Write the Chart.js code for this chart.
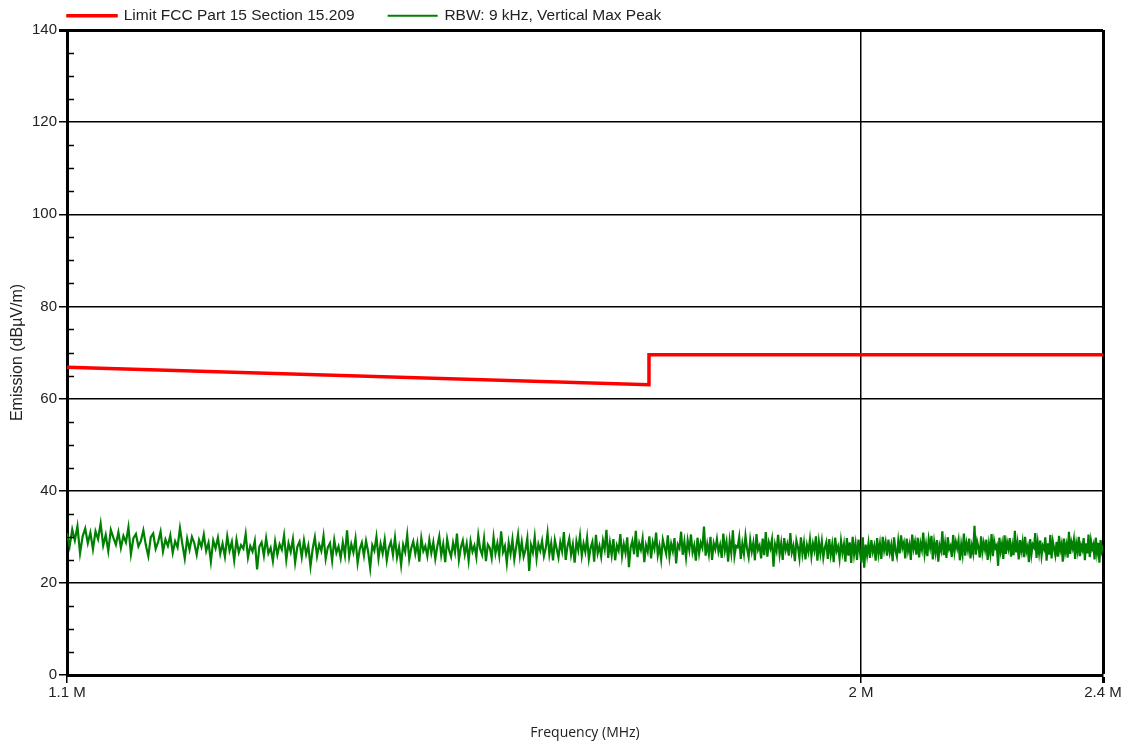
<!DOCTYPE html>
<html>
<head>
<meta charset="utf-8">
<script src="https://cdn.jsdelivr.net/npm/chart.js@4.4.1/dist/chart.umd.min.js"></script>
<style>
  html, body { margin: 0; padding: 0; background: #fff; }
  #wrap { width: 1129px; height: 744px; }
</style>
</head>
<body>
<div id="wrap"><canvas id="graph"></canvas></div>
<script>
// limit line, FCC 15.209 (MHz, dBuV/m)
const limitFreq = [1.1, 1.705, 1.705, 2.4];
const limitLevel = [66.8, 63.0, 69.5, 69.5];

// measured sweep 1.1 .. 2.4 MHz, equal steps
const sweepStart = 1.1;
const sweepStop = 2.4;
const peakLevel = [
  30.8, 27.9, 31.6, 29.2, 32.3, 26.4, 30.1, 31.8, 28.6, 30.9, 27.3, 31.2, 29.5, 32.9, 28.1, 30.4, 26.9, 31.5, 29.8, 28.3,
  31.0, 27.6, 30.2, 28.8, 32.1, 26.2, 29.7, 30.6, 27.9, 29.1, 31.4, 28.2, 25.8, 29.9, 30.7, 27.4, 28.9, 31.1, 26.8, 29.4,
  28.0, 30.3, 26.5, 29.0, 27.7, 31.9, 28.4, 25.3, 29.6, 27.2, 30.0, 28.6, 26.1, 29.3, 27.8, 30.5, 26.9, 28.7, 24.6, 29.2,
  27.5, 29.8, 26.3, 28.5, 25.7, 30.1, 27.0, 28.9, 24.9, 29.4, 26.6, 28.2, 27.4, 30.6, 25.5, 28.0, 26.8, 29.1, 22.9, 27.9,
  28.8, 25.9, 29.7, 26.4, 27.6, 24.7, 29.0, 26.1, 28.4, 27.2, 30.3, 25.0, 28.6, 26.7, 29.5, 24.4, 27.8, 28.9, 25.6, 29.2,
  26.2, 28.1, 23.6, 27.4, 29.9, 25.8, 28.3, 26.9, 30.2, 25.2, 27.7, 28.6, 24.8, 29.3, 26.5, 27.9, 25.4, 28.8, 26.0, 31.4,
  25.7, 28.4, 26.6, 29.6, 24.3, 27.3, 28.7, 25.9, 29.1, 26.8, 23.2, 28.2, 27.0, 30.0, 25.3, 28.5, 26.4, 29.4, 24.9, 27.6,
  28.9, 26.1, 29.8, 25.5, 27.8, 23.9, 28.3, 26.7, 30.4, 25.1, 27.5, 29.0, 26.3, 28.6, 24.6, 29.7, 26.9, 28.0, 25.8, 29.3,
  26.5, 28.8, 25.2, 27.9, 30.1, 26.0, 28.4, 24.5, 29.5, 27.1, 25.7, 28.7, 26.6, 30.7, 25.0, 27.7, 29.2, 26.2, 28.5, 24.8,
  29.0, 26.8, 28.1, 25.6, 30.3, 27.3, 26.1, 29.6, 24.7, 28.3, 27.6, 25.4, 29.9, 26.4, 28.6, 25.9, 31.2, 26.7, 28.0, 24.3,
  28.7, 26.3, 29.4, 25.1, 27.8, 30.5, 26.0, 28.9, 25.7, 27.2, 29.7, 22.6, 28.2, 26.6, 30.0, 25.3, 28.4, 27.0, 29.1, 25.8,
  27.5, 30.8, 26.2, 28.6, 24.9, 29.3, 27.4, 25.5, 28.8, 26.9, 31.0, 25.0, 27.9, 29.6, 26.1, 28.3, 24.4, 29.0, 27.1, 30.2,
  25.9, 28.5, 26.7, 29.8, 25.2, 27.6, 28.9, 24.6, 30.4, 26.4, 28.0, 25.7, 29.2, 27.3, 31.5, 25.4, 28.7, 26.0, 29.5, 24.9,
  28.1, 27.0, 30.6, 25.8, 28.4, 26.5, 29.9, 23.4, 27.7, 29.1, 26.2, 31.3, 25.6, 28.6, 27.2, 29.6, 24.5, 28.2, 26.8, 30.1,
  25.3, 28.8, 27.4, 30.9, 26.0, 28.0, 25.1, 29.4, 27.8, 26.3, 30.3, 25.7, 28.5, 26.9, 29.7, 24.2, 28.3, 27.5, 31.1, 26.1,
  28.9, 25.5, 29.2, 27.1, 30.5, 26.6, 28.1, 24.8, 29.8, 26.4, 28.7, 27.6, 32.2, 25.9, 28.4, 26.2, 30.0, 25.0, 28.6, 27.3,
  29.5, 26.7, 28.2, 25.4, 30.7, 27.0, 28.9, 24.6, 29.1, 26.5, 31.4, 25.8, 28.0, 27.7, 29.9, 25.2, 28.5, 26.3, 30.2, 27.4,
  25.6, 29.3, 26.8, 28.7, 24.9, 30.6, 27.2, 28.1, 25.3, 29.6, 26.0, 31.0, 25.7, 28.8, 27.5, 29.4, 23.5, 28.3, 26.9, 30.4,
  26.2, 28.6, 25.0, 29.7, 27.1, 28.4, 25.9, 30.8, 26.6, 28.0, 24.7, 29.2, 27.8, 25.4, 29.9, 26.3, 28.7, 25.1, 28.2, 26.7,
  29.4, 25.8, 28.5, 27.0, 30.1, 24.8, 28.9, 26.4, 29.0, 25.5, 27.6, 28.8, 25.2, 29.5, 26.1, 28.3, 24.5, 29.8, 26.9, 27.9,
  25.3, 29.1, 26.5, 28.4, 24.6, 29.7, 25.9, 28.8, 24.3, 30.0, 26.2, 28.5, 25.0, 29.4, 26.8, 24.4, 29.9, 23.3, 28.3, 26.0,
  28.6, 25.4, 29.3, 26.7, 28.0, 24.8, 29.7, 26.3, 28.5, 25.2, 30.0, 27.1, 28.8, 25.9, 29.4, 26.6, 28.2, 24.7, 29.9, 27.0,
  25.7, 29.1, 26.4, 30.3, 27.6, 28.7, 25.3, 29.6, 26.9, 28.3, 25.0, 30.5, 27.4, 28.9, 26.1, 29.8, 25.5, 28.6, 27.2, 30.9,
  26.3, 28.4, 25.8, 29.5, 27.7, 30.2, 25.1, 28.8, 26.6, 29.3, 24.6, 28.1, 27.0, 31.2, 26.0, 28.5, 25.4, 29.9, 27.3, 28.0,
  25.6, 30.4, 26.8, 28.9, 27.5, 29.2, 24.9, 28.3, 26.2, 30.7, 25.9, 28.6, 27.1, 29.6, 25.3, 28.0, 26.5, 32.4, 26.1, 29.0,
  27.8, 25.5, 30.1, 26.7, 28.7, 27.2, 29.4, 25.0, 28.4, 26.4, 30.6, 25.8, 29.1, 27.6, 28.2, 23.7, 29.8, 26.9, 28.5, 25.2,
  30.3, 26.3, 28.8, 27.4, 29.7, 25.7, 28.1, 26.0, 31.3, 26.6, 28.6, 25.1, 29.3, 27.0, 28.9, 25.6, 30.0, 26.8, 27.9, 24.5,
  29.5, 26.2, 28.3, 27.7, 30.8, 25.4, 28.7, 26.5, 29.2, 25.9, 28.0, 27.3, 29.9, 24.8, 28.6, 26.1, 30.4, 25.3, 29.0, 27.5,
  26.0, 28.9, 25.7, 30.2, 27.1, 28.4, 24.6, 29.6, 26.7, 28.2, 25.5, 31.1, 26.3, 28.8, 27.6, 29.4, 25.2, 28.5, 26.9, 30.0,
  25.8, 28.1, 27.2, 29.7, 24.9, 28.6, 26.4, 30.5, 25.6, 29.1, 27.4, 28.3, 25.1, 29.8, 26.6, 28.7, 24.4, 29.3, 27.0, 28.2
];

const xTicks = [1.1, 2, 2.4];
const yMin = 0, yMax = 140, yStep = 20, yMinorStep = 5;

const fontFamily = "'Liberation Sans', Arial, sans-serif";
const tickFont = { family: fontFamily, size: 15 };

const stepMHz = (sweepStop - sweepStart) / (peakLevel.length - 1);
const peakData = peakLevel.map((v, i) => ({ x: sweepStart + i * stepMHz, y: v }));
const limitData = limitFreq.map((f, i) => ({ x: f, y: limitLevel[i] }));

// short inner ticks on the level axis, between the grid lines
const minorTicks = {
  id: 'minorTicks',
  afterDraw(chart) {
    const ctx = chart.ctx;
    const y = chart.scales.y;
    const left = chart.chartArea.left;
    ctx.save();
    ctx.strokeStyle = '#000';
    ctx.lineWidth = 1.5;
    for (let v = yMin + yMinorStep; v < yMax; v += yMinorStep) {
      if (v % yStep === 0) continue;
      const py = Math.round(y.getPixelForValue(v)) + 0.5;
      ctx.beginPath();
      ctx.moveTo(left, py);
      ctx.lineTo(left + 7, py);
      ctx.stroke();
    }
    ctx.restore();
  }
};

// legend sits over the plot's left edge, close to the top
const legendShift = {
  id: 'legendShift',
  afterLayout(chart) {
    const lg = chart.legend;
    lg.left += 34;
    lg.right += 34;
    lg.top = -26;
  }
};

new Chart(document.getElementById('graph'), {
  type: 'line',
  data: {
    datasets: [
      {
        label: 'Limit FCC Part 15 Section 15.209',
        data: limitData,
        borderColor: '#ff0000',
        backgroundColor: '#ff0000',
        borderWidth: 3.5,
        pointRadius: 0,
        tension: 0
      },
      {
        label: 'RBW: 9 kHz, Vertical Max Peak',
        data: peakData,
        borderColor: '#008000',
        backgroundColor: '#008000',
        borderWidth: 2.2,
        pointRadius: 0,
        tension: 0
      }
    ]
  },
  options: {
    responsive: true,
    maintainAspectRatio: false,
    animation: false,
    parsing: false,
    layout: { padding: { left: 0, right: 26, top: 0, bottom: 0 } },
    plugins: {
      tooltip: { enabled: false },
      legend: {
        position: 'top',
        align: 'start',
        maxHeight: 30,
        labels: {
          boxWidth: 48,
          boxHeight: 0.01,
          padding: 34,
          color: '#222',
          font: { family: fontFamily, size: 15.5 },
          generateLabels: (chart) => chart.data.datasets.map((ds, i) => ({
            text: ds.label,
            fillStyle: ds.borderColor,
            strokeStyle: ds.borderColor,
            lineWidth: i === 0 ? 3.5 : 2,
            fontColor: '#222',
            hidden: false,
            datasetIndex: i
          }))
        }
      }
    },
    scales: {
      x: {
        type: 'logarithmic',
        min: sweepStart,
        max: sweepStop,
        afterBuildTicks: (s) => { s.ticks = xTicks.map(v => ({ value: v })); },
        afterFit: (s) => { s.height = 69; },
        ticks: {
          autoSkip: false,
          maxRotation: 0,
          color: '#222',
          font: tickFont,
          padding: 1,
          callback: (v) => v + ' M'
        },
        grid: {
          color: '#000',
          lineWidth: (c) => (c.tick && c.tick.value === sweepStop ? 3 : 1.5),
          tickLength: 8
        },
        border: { color: '#000', width: 3 },
        title: {
          display: true,
          text: 'Frequency (MHz)',
          color: '#222',
          font: { family: "'Open Sans', sans-serif", size: 14 },
          padding: { top: 0, bottom: 3 }
        }
      },
      y: {
        min: yMin,
        max: yMax,
        afterFit: (s) => { s.width = 67; },
        ticks: {
          stepSize: yStep,
          color: '#222',
          font: tickFont,
          padding: 2
        },
        grid: {
          color: '#000',
          lineWidth: (c) => (c.tick && c.tick.value === yMax ? 3 : 1.5),
          tickLength: 8
        },
        border: { color: '#000', width: 3 },
        title: {
          display: true,
          text: 'Emission (dBµV/m)',
          color: '#222',
          font: { family: fontFamily, size: 16 },
          padding: { top: 8, bottom: 0 }
        }
      }
    }
  },
  plugins: [minorTicks, legendShift]
});
</script>
</body>
</html>
